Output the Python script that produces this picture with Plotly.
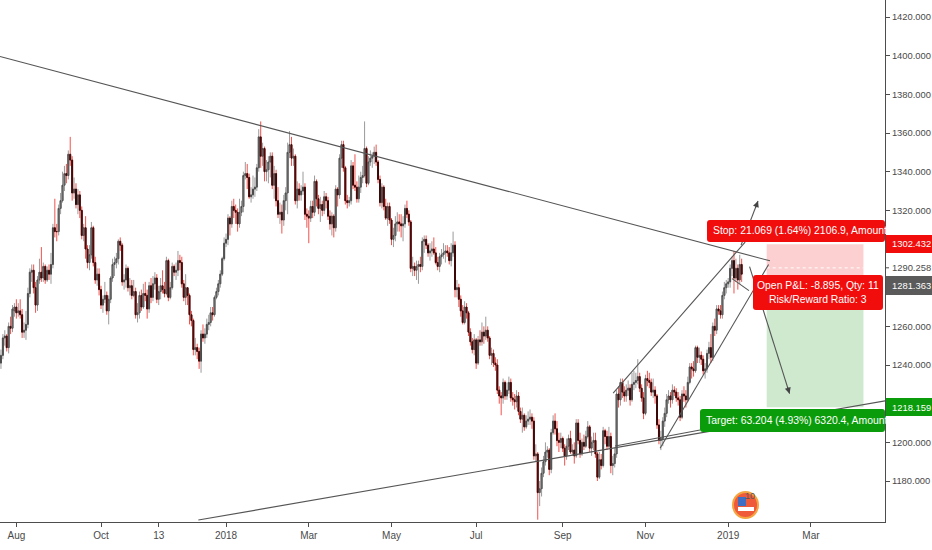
import math
import pandas as pd
import plotly.graph_objects as go

# ---------------- data (daily bars) ----------------
FIRST_BAR = "2017-07-20"

OPEN = [
1241,1245,1254,1255,1249,1260,1259,1268,1270,1267,
1268,1266,1257,1258,1261,1277,1288,1289,1280,1271,
1284,1288,1285,1291,1284,1289,1287,1292,1311,1309,
1309,1321,1325,1333,1339,1338,1349,1346,1329,1331,
1323,1328,1320,1307,1311,1300,1293,1297,1311,1293,
1284,1287,1279,1271,1274,1276,1268,1274,1285,1292,
1293,1295,1304,1302,1283,1284,1290,1280,1281,1276,
1278,1266,1267,1276,1270,1277,1276,1269,1281,1275,
1282,1285,1274,1278,1281,1279,1277,1294,1275,1280,
1291,1288,1289,1294,1293,1282,1275,1280,1276,1266,
1263,1248,1249,1247,1242,1256,1254,1256,1261,1262,
1267,1266,1275,1278,1282,1287,1295,1303,1305,1316,
1313,1322,1320,1319,1313,1319,1322,1338,1339,1337,
1327,1328,1331,1332,1342,1358,1348,1352,1340,1341,
1345,1348,1333,1339,1325,1318,1319,1315,1325,1329,
1350,1354,1347,1348,1325,1331,1328,1330,1332,1318,
1317,1316,1322,1319,1335,1326,1321,1323,1320,1327,
1325,1317,1313,1317,1311,1331,1328,1347,1354,1342,
1325,1324,1325,1343,1333,1332,1326,1332,1337,1338,
1352,1334,1345,1347,1348,1350,1345,1336,1324,1332,
1322,1316,1322,1315,1305,1307,1313,1314,1313,1312,
1313,1321,1318,1314,1290,1291,1289,1291,1292,1291,
1304,1305,1302,1298,1299,1300,1298,1293,1291,1296,
1297,1298,1299,1298,1294,1298,1302,1279,1280,1274,
1268,1262,1270,1267,1257,1252,1248,1253,1241,1253,
1252,1257,1255,1258,1254,1245,1246,1241,1240,1227,
1224,1223,1231,1224,1227,1231,1223,1222,1221,1224,
1216,1212,1214,1208,1211,1212,1213,1211,1193,1194,
1174,1176,1184,1190,1195,1196,1186,1205,1211,1207,
1201,1200,1202,1197,1193,1198,1202,1195,1196,1193,
1210,1201,1194,1200,1198,1203,1208,1197,1200,1201,
1194,1182,1191,1188,1206,1203,1198,1203,1188,1189,
1194,1225,1222,1231,1226,1224,1227,1228,1222,1230,
1231,1232,1234,1228,1223,1215,1233,1232,1231,1226,
1227,1224,1209,1201,1202,1211,1215,1222,1224,1222,
1227,1226,1223,1222,1213,1225,1224,1222,1231,1239,
1238,1237,1249,1244,1245,1243,1237,1238,1246,1249,
1244,1260,1258,1269,1268,1266,1276,1280,1282,1283,
1290,1294,1285,1290,1284,1292,
]

HIGH = [
1248,1256,1258,1256,1262,1265,1271,1272,1274,1272,
1274,1269,1262,1268,1280,1290,1292,1292,1283,1286,
1295,1301,1293,1292,1291,1292,1298,1313,1326,1313,
1323,1329,1340,1343,1344,1351,1358,1348,1337,1334,
1331,1330,1322,1313,1317,1302,1302,1314,1312,1296,
1290,1290,1281,1276,1283,1278,1276,1286,1295,1296,
1298,1305,1306,1303,1287,1292,1291,1285,1284,1284,
1280,1272,1278,1279,1282,1283,1279,1283,1285,1286,
1288,1287,1281,1285,1289,1283,1296,1295,1283,1293,
1292,1293,1299,1297,1296,1284,1287,1280,1277,1268,
1264,1254,1251,1249,1258,1261,1259,1264,1266,1270,
1270,1276,1280,1284,1289,1296,1306,1308,1318,1317,
1325,1326,1323,1321,1326,1325,1340,1345,1344,1339,
1332,1338,1337,1344,1362,1366,1355,1353,1346,1348,
1350,1350,1343,1341,1332,1324,1323,1328,1332,1355,
1361,1358,1352,1349,1335,1334,1333,1340,1334,1321,
1320,1325,1325,1338,1336,1328,1327,1325,1330,1329,
1327,1320,1319,1318,1333,1332,1349,1356,1356,1343,
1328,1327,1346,1345,1349,1335,1338,1340,1343,1366,
1353,1348,1351,1350,1353,1354,1346,1338,1334,1333,
1326,1324,1324,1316,1311,1317,1319,1318,1318,1317,
1323,1325,1320,1315,1296,1293,1294,1294,1296,1306,
1307,1307,1303,1303,1304,1306,1301,1296,1298,1300,
1303,1302,1302,1301,1303,1309,1304,1284,1282,1276,
1271,1273,1272,1268,1259,1254,1256,1254,1255,1258,
1262,1260,1265,1260,1255,1249,1248,1244,1243,1229,
1226,1233,1232,1231,1234,1233,1226,1225,1227,1226,
1218,1218,1215,1214,1216,1217,1215,1213,1199,1195,
1180,1187,1193,1200,1198,1197,1207,1214,1215,1211,
1205,1205,1203,1199,1202,1204,1206,1199,1200,1212,
1212,1205,1202,1204,1206,1211,1209,1203,1205,1205,
1195,1195,1194,1208,1207,1206,1208,1205,1193,1197,
1227,1229,1233,1233,1229,1230,1232,1230,1236,1237,
1236,1243,1236,1230,1226,1235,1237,1236,1233,1233,
1229,1225,1212,1206,1213,1218,1225,1227,1226,1230,
1229,1228,1226,1224,1227,1229,1227,1234,1241,1241,
1242,1250,1250,1249,1247,1245,1241,1248,1252,1256,
1262,1264,1271,1271,1271,1278,1283,1284,1285,1292,
1296,1299,1295,1292,1297,1295,
]

LOW = [
1238,1243,1250,1247,1246,1256,1257,1265,1264,1265,
1264,1254,1254,1253,1259,1275,1283,1277,1267,1268,
1282,1283,1283,1282,1283,1284,1282,1290,1306,1304,
1307,1318,1324,1330,1334,1336,1343,1325,1326,1321,
1318,1316,1305,1304,1295,1290,1289,1295,1291,1282,
1281,1276,1269,1267,1272,1266,1261,1272,1283,1286,
1290,1292,1299,1281,1279,1280,1278,1276,1274,1275,
1264,1262,1264,1268,1269,1273,1264,1267,1272,1273,
1279,1272,1271,1274,1277,1275,1276,1273,1274,1279,
1286,1284,1286,1289,1280,1273,1271,1271,1261,1260,
1245,1245,1243,1238,1236,1252,1251,1254,1258,1260,
1263,1265,1274,1276,1280,1286,1294,1301,1302,1307,
1311,1316,1313,1309,1311,1317,1319,1336,1331,1326,
1324,1326,1327,1330,1340,1342,1343,1335,1335,1334,
1337,1331,1326,1322,1316,1313,1308,1312,1320,1318,
1347,1343,1343,1323,1321,1325,1325,1328,1315,1311,
1303,1314,1316,1317,1322,1318,1314,1317,1318,1321,
1315,1310,1307,1306,1309,1322,1326,1342,1340,1323,
1321,1322,1323,1331,1330,1324,1324,1329,1334,1337,
1332,1333,1343,1342,1344,1343,1334,1322,1321,1320,
1315,1312,1313,1302,1301,1304,1309,1309,1306,1304,
1311,1316,1312,1288,1286,1286,1284,1282,1288,1289,
1298,1300,1296,1294,1296,1297,1292,1289,1288,1292,
1295,1293,1296,1292,1291,1296,1275,1275,1270,1265,
1261,1261,1264,1255,1250,1246,1245,1238,1240,1250,
1250,1251,1253,1252,1243,1240,1239,1237,1225,1220,
1214,1220,1222,1222,1225,1221,1219,1217,1218,1214,
1210,1205,1206,1207,1209,1209,1207,1191,1190,1160,
1167,1172,1182,1188,1192,1183,1184,1204,1204,1198,
1195,1197,1195,1188,1191,1196,1194,1193,1189,1192,
1199,1192,1193,1196,1197,1202,1195,1193,1196,1192,
1180,1181,1186,1187,1199,1196,1197,1184,1183,1187,
1192,1218,1219,1223,1221,1221,1224,1219,1221,1227,
1228,1230,1226,1221,1212,1214,1229,1228,1224,1223,
1220,1207,1199,1196,1198,1208,1213,1220,1218,1220,
1224,1221,1219,1211,1212,1221,1218,1221,1230,1233,
1234,1236,1241,1241,1240,1235,1233,1236,1243,1241,
1242,1255,1256,1266,1264,1264,1274,1277,1280,1280,
1286,1277,1283,1279,1282,1283,
]

CLOSE = [
1245,1254,1255,1249,1260,1259,1269,1270,1267,1268,
1266,1257,1258,1261,1277,1288,1289,1280,1271,1284,
1288,1285,1291,1284,1289,1287,1292,1311,1309,1309,
1321,1325,1333,1339,1338,1349,1346,1329,1331,1323,
1328,1320,1307,1311,1300,1293,1297,1311,1293,1284,
1287,1279,1271,1274,1276,1268,1274,1285,1292,1293,
1295,1304,1302,1283,1284,1290,1280,1281,1276,1278,
1266,1267,1276,1270,1277,1276,1269,1281,1275,1282,
1285,1274,1278,1281,1279,1277,1294,1275,1280,1291,
1288,1289,1294,1293,1282,1275,1280,1276,1266,1263,
1248,1249,1247,1242,1256,1254,1256,1261,1262,1267,
1266,1275,1278,1282,1287,1295,1303,1305,1316,1313,
1322,1320,1319,1313,1319,1322,1338,1339,1337,1327,
1328,1331,1332,1342,1358,1348,1352,1340,1341,1345,
1348,1333,1339,1325,1318,1319,1315,1325,1329,1350,
1354,1347,1348,1325,1331,1328,1330,1332,1318,1317,
1316,1322,1319,1335,1326,1321,1323,1320,1327,1325,
1317,1313,1317,1311,1331,1328,1347,1354,1342,1325,
1324,1325,1343,1333,1332,1326,1332,1337,1338,1352,
1334,1345,1347,1348,1350,1345,1336,1324,1332,1322,
1316,1322,1315,1305,1307,1313,1314,1313,1312,1313,
1321,1318,1314,1290,1291,1289,1291,1292,1291,1304,
1305,1302,1298,1299,1300,1298,1293,1291,1296,1297,
1298,1299,1298,1294,1298,1302,1279,1280,1274,1268,
1262,1270,1267,1257,1252,1248,1253,1241,1253,1252,
1257,1255,1258,1254,1245,1246,1241,1240,1227,1224,
1223,1231,1224,1227,1231,1223,1222,1221,1224,1216,
1212,1214,1208,1211,1212,1213,1211,1193,1194,1174,
1176,1184,1190,1195,1196,1186,1205,1211,1207,1201,
1200,1202,1197,1193,1198,1202,1195,1196,1193,1210,
1201,1194,1200,1198,1203,1208,1197,1200,1201,1194,
1182,1191,1188,1206,1203,1198,1203,1188,1189,1194,
1225,1222,1231,1226,1224,1227,1228,1222,1230,1231,
1232,1234,1228,1223,1215,1233,1232,1231,1226,1227,
1224,1209,1201,1202,1211,1215,1222,1224,1222,1227,
1226,1223,1222,1213,1225,1224,1222,1231,1239,1238,
1237,1249,1244,1245,1243,1237,1238,1246,1249,1244,
1260,1258,1269,1268,1266,1276,1280,1282,1283,1290,
1294,1285,1290,1284,1292,1287,
]

TICK_DATES = ["2017-08-01", "2017-10-02", "2017-11-13", "2018-01-01", "2018-03-01",
              "2018-05-01", "2018-07-02", "2018-09-03", "2018-11-01", "2019-01-01",
              "2019-03-01"]
TICK_TEXT = ["Aug", "Oct", "13", "2018", "Mar", "May", "Jul", "Sep", "Nov", "2019", "Mar"]
PRICE_TICKS = [1180, 1200, 1240, 1260, 1320, 1340, 1360, 1380, 1400, 1420]
PRICE_RANGE = [1158.8, 1428.8]
BAR_RANGE = [-0.5, 459.5]          # visible span in bar units

# drawings: (bar index, price)
RESISTANCE = [(-0.5, 1399.6), (399.7, 1293.9)]
SUPPORT = [(102.6, 1159.8), (482.9, 1227.2)]
CHANNEL_TOP = [(318.2, 1225.5), (386.8, 1303.6)]
CHANNEL_BOTTOM = [(342.6, 1196.9), (399.0, 1292.0)]
BASE_LINE = [(319.2, 1198.1), (363.4, 1206.4)]
SHORT_LINE = [(380.0, 1284.7), (388.8, 1278.5)]
ARROW_UP = [(384.7, 1302.0), (393.5, 1324.8)]
ARROW_DOWN = [(389.1, 1290.9), (409.9, 1225.2)]

# short position tool
POS_BARS = (398.0, 448.3)
STOP, ENTRY, LAST, TARGET = 1302.432, 1290.258, 1281.363, 1218.159
STOP_TEXT = "Stop: 21.069 (1.64%) 2106.9, Amount"
PNL_TEXT = "Open P&L: -8.895, Qty: 11<br>Risk/Reward Ratio: 3"
TARGET_TEXT = "Target: 63.204 (4.93%) 6320.4, Amount"

# ---------------- helpers ----------------
cal = pd.bdate_range("2017-06-01", periods=650)
off = cal.get_loc(pd.Timestamp(FIRST_BAR))
dates = cal[off:off + len(CLOSE)]


def bar_time(k):
    f = math.floor(k)
    t = cal[off + f] + pd.Timedelta(days=k - f)
    return t.strftime("%Y-%m-%d %H:%M:%S")


W, H = 932, 550
PW, PH = 885, 522  # plot area in pixels


def px(x):
    return x / PW


def py(y):
    return 1 - y / PH


def rrect(x0, y0, x1, y1, r=3):
    pts = [("M", x0 + r, y0), ("L", x1 - r, y0), ("Q", x1, y0, x1, y0 + r),
           ("L", x1, y1 - r), ("Q", x1, y1, x1 - r, y1), ("L", x0 + r, y1),
           ("Q", x0, y1, x0, y1 - r), ("L", x0, y0 + r), ("Q", x0, y0, x0 + r, y0)]
    out = []
    for p in pts:
        vals = p[1:]
        coords = [f"{px(vals[i]):.5f},{py(vals[i + 1]):.5f}" for i in range(0, len(vals), 2)]
        out.append(p[0] + " " + " ".join(coords))
    return " ".join(out) + " Z"


FONT = "Liberation Sans, Arial, sans-serif"
AXIS_COL = "#4d4d4d"
TXT_COL = "#4a4a4a"
RED = "#f20d0d"
GREEN = "#0a9c0a"
BOX_FONT = dict(family=FONT, size=10.4, color="#ffffff")
SCALE_SIZE = 9.4

fig = go.Figure()

body_hi = [max(o, c) for o, c in zip(OPEN, CLOSE)]
body_lo = [min(o, c) for o, c in zip(OPEN, CLOSE)]

fig.add_trace(go.Candlestick(
    x=dates, open=OPEN, high=HIGH, low=LOW, close=CLOSE,
    increasing=dict(line=dict(color="#9a9a9a", width=1), fillcolor="#9a9a9a"),
    decreasing=dict(line=dict(color="#f0524c", width=1), fillcolor="#f0524c"),
    whiskerwidth=0, hoverinfo="skip", showlegend=False))
fig.add_trace(go.Candlestick(
    x=dates, open=OPEN, high=body_hi, low=body_lo, close=CLOSE,
    increasing=dict(line=dict(color="#4a4a4a", width=1), fillcolor="#c2c2c2"),
    decreasing=dict(line=dict(color="#3a0808", width=1), fillcolor="#8e1010"),
    whiskerwidth=0, hoverinfo="skip", showlegend=False))

shapes = []
# position zones
shapes.append(dict(type="rect", xref="x", yref="y", x0=bar_time(POS_BARS[0]), x1=bar_time(POS_BARS[1]),
                   y0=LAST, y1=STOP, fillcolor="#fcd0d0", line=dict(width=0), layer="below"))
shapes.append(dict(type="rect", xref="x", yref="y", x0=bar_time(POS_BARS[0]), x1=bar_time(POS_BARS[1]),
                   y0=TARGET, y1=LAST, fillcolor="#cfe9cf", line=dict(width=0), layer="below"))
shapes.append(dict(type="line", xref="x", yref="y", x0=bar_time(POS_BARS[0]), x1=bar_time(POS_BARS[1]),
                   y0=ENTRY, y1=ENTRY, line=dict(color="#ffffff", width=1, dash="dot"), layer="above"))

for seg in [RESISTANCE, SUPPORT, CHANNEL_TOP, CHANNEL_BOTTOM, BASE_LINE, SHORT_LINE, ARROW_UP, ARROW_DOWN]:
    (a, pa), (b, pb) = seg
    shapes.append(dict(type="line", xref="x", yref="y", x0=bar_time(a), y0=pa, x1=bar_time(b), y1=pb,
                       line=dict(color="#555555", width=1.1), layer="above"))

# drawing labels
shapes.append(dict(type="path", xref="paper", yref="paper", path=rrect(707, 220, 885, 242),
                   fillcolor=RED, line=dict(width=0), layer="above"))
shapes.append(dict(type="path", xref="paper", yref="paper", path=rrect(753, 275, 883, 310),
                   fillcolor=RED, line=dict(width=0), layer="above"))
shapes.append(dict(type="path", xref="paper", yref="paper", path=rrect(700, 409, 885, 432),
                   fillcolor=GREEN, line=dict(width=0), layer="above"))

# price-scale labels
shapes.append(dict(type="rect", xref="paper", yref="paper", x0=px(886), x1=px(932), y0=py(253), y1=py(235),
                   fillcolor=RED, line=dict(width=0)))
shapes.append(dict(type="rect", xref="paper", yref="paper", x0=px(886), x1=px(932), y0=py(295), y1=py(276),
                   fillcolor="#5a5a5a", line=dict(width=0)))
shapes.append(dict(type="rect", xref="paper", yref="paper", x0=px(886), x1=px(932), y0=py(416), y1=py(398),
                   fillcolor=GREEN, line=dict(width=0)))
shapes.append(dict(type="line", xref="paper", yref="paper", x0=px(885), x1=px(889), y0=py(267.8), y1=py(267.8),
                   line=dict(color=AXIS_COL, width=1)))

# logo
shapes.append(dict(type="circle", xref="paper", yref="paper", x0=px(733), x1=px(758), y0=py(518), y1=py(492),
                   fillcolor="#ef5a3a", line=dict(color="#f5a540", width=2)))
shapes.append(dict(type="rect", xref="paper", yref="paper", x0=px(738), x1=px(746), y0=py(506), y1=py(497),
                   fillcolor="#3f6fc4", line=dict(width=0)))
shapes.append(dict(type="rect", xref="paper", yref="paper", x0=px(738), x1=px(754), y0=py(511), y1=py(507),
                   fillcolor="#ffffff", line=dict(width=0)))

ann = []
ann.append(dict(xref="paper", yref="paper", x=px(711), y=py(231), text=STOP_TEXT, showarrow=False,
                xanchor="left", yanchor="middle", font=BOX_FONT))
ann.append(dict(xref="paper", yref="paper", x=px(818), y=py(292.5), text=PNL_TEXT, showarrow=False,
                xanchor="center", yanchor="middle", align="center", font=BOX_FONT))
ann.append(dict(xref="paper", yref="paper", x=px(704), y=py(420.5), text=TARGET_TEXT, showarrow=False,
                xanchor="left", yanchor="middle", font=BOX_FONT))
for price, ypix, col in [(STOP, 244, "#ffffff"), (ENTRY, 267.8, TXT_COL),
                         (LAST, 285.5, "#ffffff"), (TARGET, 407, "#ffffff")]:
    ann.append(dict(xref="paper", yref="paper", x=px(890), y=py(ypix), text=f"{price:.3f}", showarrow=False,
                    xanchor="left", yanchor="middle", font=dict(family=FONT, size=SCALE_SIZE, color=col)))
ann.append(dict(xref="paper", yref="paper", x=px(750), y=py(496), text="10", showarrow=False,
                xanchor="center", yanchor="middle", font=dict(family=FONT, size=9, color="#555555")))

# arrow heads
for seg, axp, ayp in [(ARROW_UP, -3, 8), (ARROW_DOWN, -2.5, -8)]:
    (b, pb) = seg[1]
    ann.append(dict(xref="x", yref="y", x=bar_time(b), y=pb, ax=axp, ay=ayp, text="", showarrow=True,
                    arrowhead=2, arrowsize=1.1, arrowwidth=1.1, arrowcolor="#444444"))

fig.update_layout(
    width=W, height=H,
    margin=dict(l=0, r=W - PW, t=0, b=H - PH),
    paper_bgcolor="#ffffff", plot_bgcolor="#ffffff",
    shapes=shapes, annotations=ann, hovermode=False, dragmode=False,
    font=dict(family=FONT, size=10, color=TXT_COL),
    xaxis=dict(type="date", range=[bar_time(BAR_RANGE[0]), bar_time(BAR_RANGE[1])],
               rangebreaks=[dict(bounds=["sat", "mon"])],
               tickmode="array", tickvals=TICK_DATES, ticktext=TICK_TEXT,
               showline=True, linecolor=AXIS_COL, linewidth=1, ticks="outside", ticklen=4,
               tickcolor=AXIS_COL, tickfont=dict(family=FONT, size=10, color=TXT_COL),
               showgrid=False, zeroline=False, rangeslider=dict(visible=False), fixedrange=True),
    yaxis=dict(side="right", range=PRICE_RANGE, tickmode="array", tickvals=PRICE_TICKS,
               ticktext=[f"{v:.3f}" for v in PRICE_TICKS],
               showline=True, linecolor=AXIS_COL, linewidth=1, ticks="outside", ticklen=4,
               tickcolor=AXIS_COL, tickfont=dict(family=FONT, size=SCALE_SIZE, color=TXT_COL),
               showgrid=False, zeroline=False, fixedrange=True),
)

fig.write_html("out.html", config={"displayModeBar": False},
               post_script="document.body.style.margin='0px';document.body.style.padding='0px';")
